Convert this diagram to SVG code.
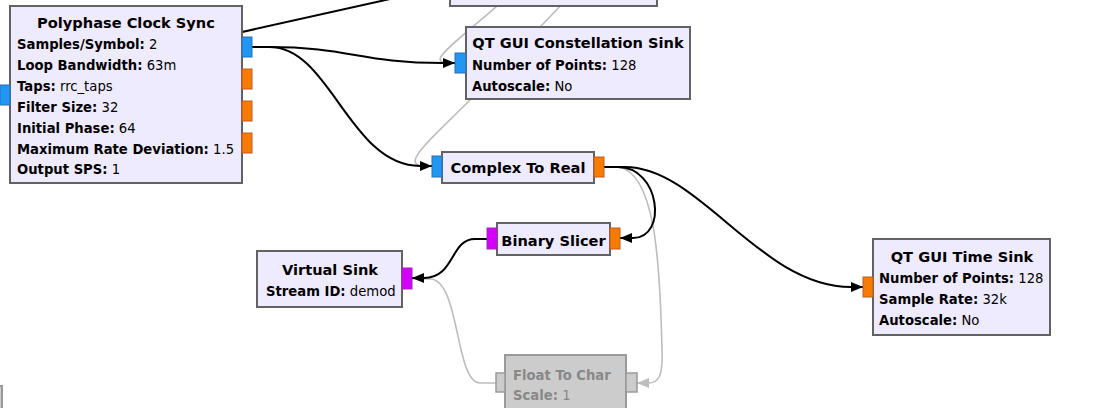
<svg xmlns="http://www.w3.org/2000/svg" width="1097" height="408" viewBox="0 0 1097 408">
<style>
.blk{fill:#EFEBFF;stroke:#626262;stroke-width:2}
.dis{fill:#CCCCCC;stroke:#9A9A9A;stroke-width:2}
.pc{fill:#2196F3;stroke:#2F6DAF;stroke-width:1}
.pf{fill:#F57C00;stroke:#C0582A;stroke-width:1}
.pb{fill:#D500F9;stroke:#9A2DB0;stroke-width:1}
.pd{fill:#CCCCCC;stroke:#9A9A9A;stroke-width:1.5}
.t{font-family:"DejaVu Sans",sans-serif;font-weight:bold;font-size:14.6px;fill:#000;text-anchor:middle}
.p{font-family:"DejaVu Sans",sans-serif;font-size:13.2px;fill:#000}
.p .k{font-weight:bold}
.g{fill:#888888}
.c{fill:none;stroke:#000;stroke-width:2}
.cg{fill:none;stroke:#BDBDBD;stroke-width:1.6}
</style>
<defs>
<marker id="ab" markerUnits="userSpaceOnUse" markerWidth="12" markerHeight="10" refX="12" refY="5" orient="auto"><path d="M0,0 L12,5 L0,10 z" fill="#000"/></marker>
<marker id="ag" markerUnits="userSpaceOnUse" markerWidth="12" markerHeight="10" refX="12" refY="5" orient="auto"><path d="M0,0 L12,5 L0,10 z" fill="#BDBDBD"/></marker>
</defs>
<g id="connectors">
<path class="cg" d="M506,-2 C480,22 440,52 440,59 Q441,63 447,63 H455"/>
<path class="cg" d="M568,-2 L470,100 C440,130 415,152 415,161 Q416,166 422,166 H432"/>
<path class="cg" d="M604,167 H618 C655,172 660,260 662,350 C663,378 658,383 648,383 H637" marker-end="url(#ag)"/>
<path class="cg" d="M496,383 H480 C455,383 460,279 430,279 H412"/>
<path class="c" d="M230,34.7 L390,-1"/>
<path class="c" d="M252,47 H268 C350,47 360,63 443,63 H455" marker-end="url(#ab)"/>
<path class="c" d="M252,47 H270 C330,47 350,166 420,166 H432" marker-end="url(#ab)"/>
<path class="c" d="M604,167 H618 C660,167 668,238 633,238 H620" marker-end="url(#ab)"/>
<path class="c" d="M604,167 H625 C700,167 760,287 851,287 H863" marker-end="url(#ab)"/>
<path class="c" d="M487,239 H475 C450,239 455,278 424,278 H412" marker-end="url(#ab)"/>
</g>
<g id="node-top">
<rect class="blk" x="450" y="-20" width="207" height="26"/>
</g>
<g id="node-offscreen">
<rect class="dis" x="-100" y="386" width="102" height="40"/>
</g>
<g id="polyphase-clock-sync">
<rect class="blk" x="10" y="6" width="232" height="177"/>
<rect class="pc" x="0" y="85" width="10" height="20"/>
<rect class="pc" x="242" y="37" width="10" height="20"/>
<rect class="pf" x="242" y="69" width="10" height="20"/>
<rect class="pf" x="242" y="101" width="10" height="20"/>
<rect class="pf" x="242" y="133" width="10" height="20"/>
<text class="t" x="126" y="28">Polyphase Clock Sync</text>
<text class="p" x="17" y="49"><tspan class="k">Samples/Symbol:</tspan> 2</text>
<text class="p" x="17" y="70"><tspan class="k">Loop Bandwidth:</tspan> 63m</text>
<text class="p" x="17" y="91"><tspan class="k">Taps:</tspan> rrc_taps</text>
<text class="p" x="17" y="112"><tspan class="k">Filter Size:</tspan> 32</text>
<text class="p" x="17" y="133"><tspan class="k">Initial Phase:</tspan> 64</text>
<text class="p" x="17" y="154"><tspan class="k">Maximum Rate Deviation:</tspan> 1.5</text>
<text class="p" x="17" y="174"><tspan class="k">Output SPS:</tspan> 1</text>
</g>
<g id="qt-gui-constellation-sink">
<rect class="blk" x="466" y="27" width="224" height="72"/>
<rect class="pc" x="455" y="53" width="11" height="20"/>
<text class="t" x="578" y="48">QT GUI Constellation Sink</text>
<text class="p" x="472" y="70"><tspan class="k">Number of Points:</tspan> 128</text>
<text class="p" x="472" y="91"><tspan class="k">Autoscale:</tspan> No</text>
</g>
<g id="complex-to-real">
<rect class="blk" x="442" y="152" width="152" height="31"/>
<rect class="pc" x="432" y="156" width="10" height="21"/>
<rect class="pf" x="594" y="157" width="10" height="20"/>
<text class="t" x="518" y="173">Complex To Real</text>
</g>
<g id="binary-slicer">
<rect class="blk" x="497" y="223" width="113" height="32"/>
<rect class="pb" x="487" y="228" width="10" height="21"/>
<rect class="pf" x="610" y="228" width="10" height="21"/>
<text class="t" x="553.5" y="246">Binary Slicer</text>
</g>
<g id="virtual-sink">
<rect class="blk" x="257" y="251" width="145" height="56"/>
<rect class="pb" x="402" y="268" width="10" height="21"/>
<text class="t" x="330" y="275">Virtual Sink</text>
<text class="p" x="266" y="296"><tspan class="k">Stream ID:</tspan> demod</text>
</g>
<g id="qt-gui-time-sink">
<rect class="blk" x="873" y="239" width="177" height="96"/>
<rect class="pf" x="863" y="277" width="10" height="20"/>
<text class="t" x="962" y="262">QT GUI Time Sink</text>
<text class="p" x="879" y="283"><tspan class="k">Number of Points:</tspan> 128</text>
<text class="p" x="879" y="304"><tspan class="k">Sample Rate:</tspan> 32k</text>
<text class="p" x="879" y="325"><tspan class="k">Autoscale:</tspan> No</text>
</g>
<g id="float-to-char">
<rect class="dis" x="505" y="355" width="121" height="70"/>
<rect class="pd" x="496" y="373" width="9" height="19"/>
<rect class="pd" x="626" y="373" width="11" height="19"/>
<text class="p g" x="513" y="380" font-weight="bold" font-size="14.6px">Float To Char</text>
<text class="p g" x="513" y="400"><tspan class="k">Scale:</tspan> 1</text>
</g>
</svg>
